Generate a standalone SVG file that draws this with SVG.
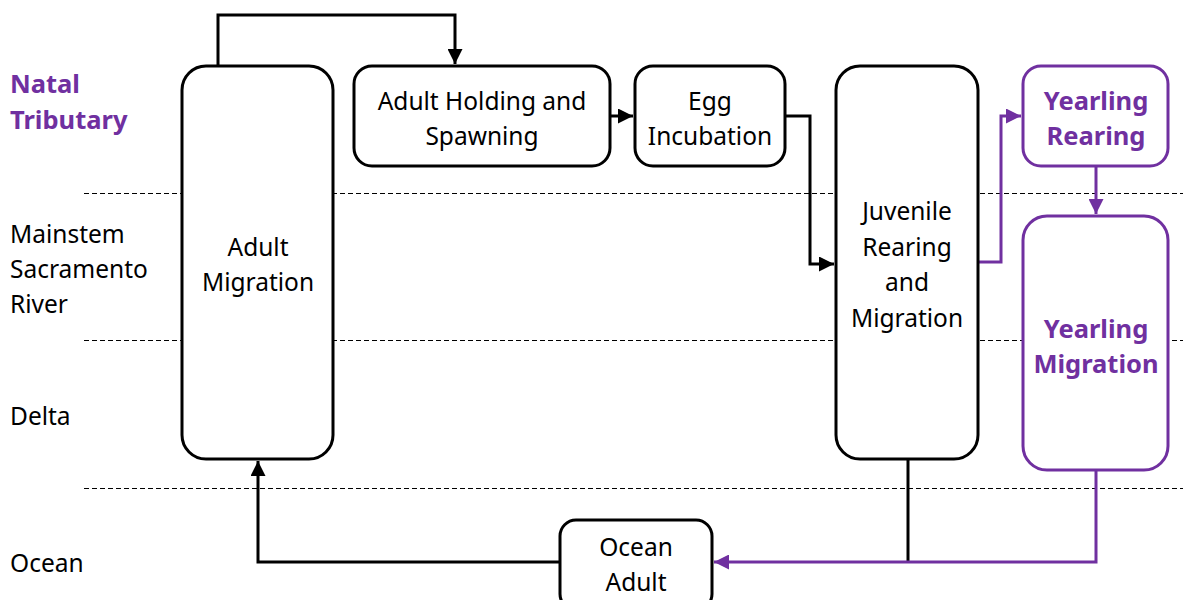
<svg xmlns="http://www.w3.org/2000/svg" width="1183" height="600" viewBox="0 0 1183 600">
  <style>
    .box { fill: #fff; stroke: #000; stroke-width: 3; }
    .pbox { fill: #fff; stroke: #7030A0; stroke-width: 3; }
    .lbl { font-family: "Noto Sans", "Open Sans", sans-serif; font-size: 24.5px; fill: #000; }
    .mid { text-anchor: middle; }
    .pl { font-family: "Noto Sans", "Open Sans", sans-serif; font-size: 25.5px; font-weight: bold; fill: #7030A0; }
    .zone { stroke: #000; stroke-width: 1; stroke-dasharray: 5 3; fill: none; }
    .wire { fill: none; stroke: #000; stroke-width: 3; }
    .pwire { fill: none; stroke: #7030A0; stroke-width: 3; }
  </style>
  <defs>
    <marker id="ah" viewBox="0 0 10 10" refX="10" refY="5" markerWidth="5" markerHeight="5" orient="auto" markerUnits="strokeWidth">
      <path d="M0,0 L10,5 L0,10 z" fill="#000"/>
    </marker>
    <marker id="ahp" viewBox="0 0 10 10" refX="10" refY="5" markerWidth="5" markerHeight="5" orient="auto" markerUnits="strokeWidth">
      <path d="M0,0 L10,5 L0,10 z" fill="#7030A0"/>
    </marker>
  </defs>
  <rect width="1183" height="600" fill="#fff"/>

  <!-- habitat zone dividers -->
  <g id="zones">
    <line class="zone" x1="84" y1="193.5" x2="1183" y2="193.5"/>
    <line class="zone" x1="84" y1="340.5" x2="1183" y2="340.5"/>
    <line class="zone" x1="84" y1="488.5" x2="1183" y2="488.5"/>
  </g>

  <!-- zone labels -->
  <g id="zone-labels">
    <text class="pl" x="10" y="93">Natal</text>
    <text class="pl" x="10" y="129">Tributary</text>
    <text class="lbl" x="10" y="243">Mainstem</text>
    <text class="lbl" x="10" y="278">Sacramento</text>
    <text class="lbl" x="10" y="313">River</text>
    <text class="lbl" x="10" y="425">Delta</text>
    <text class="lbl" x="10" y="572">Ocean</text>
  </g>

  <!-- connectors -->
  <g id="connectors">
    <path class="wire" d="M218,66 V15 H455 V64" marker-end="url(#ah)"/>
    <path class="wire" d="M610,116 H633" marker-end="url(#ah)"/>
    <path class="wire" d="M785,116 H810 V264 H834" marker-end="url(#ah)"/>
    <path class="pwire" d="M978,262 H1001 V116 H1021" marker-end="url(#ahp)"/>
    <path class="pwire" d="M1096,166 V214" marker-end="url(#ahp)"/>
    <path class="wire" d="M908,459 V562"/>
    <path class="pwire" d="M1096,470 V562 H714" marker-end="url(#ahp)"/>
    <path class="wire" d="M560,562 H258 V461" marker-end="url(#ah)"/>
  </g>

  <g id="adult-migration">
    <rect class="box" x="182" y="66" width="151" height="393" rx="24"/>
    <text class="lbl mid" x="258" y="256">Adult</text>
    <text class="lbl mid" x="258" y="291">Migration</text>
  </g>

  <g id="adult-holding">
    <rect class="box" x="354" y="66" width="256" height="100" rx="18"/>
    <text class="lbl mid" x="482" y="110">Adult Holding and</text>
    <text class="lbl mid" x="482" y="145">Spawning</text>
  </g>

  <g id="egg-incubation">
    <rect class="box" x="635" y="66" width="150" height="100" rx="18"/>
    <text class="lbl mid" x="710" y="110">Egg</text>
    <text class="lbl mid" x="710" y="145">Incubation</text>
  </g>

  <g id="juvenile">
    <rect class="box" x="836" y="66" width="142" height="393" rx="24"/>
    <text class="lbl mid" x="907" y="220">Juvenile</text>
    <text class="lbl mid" x="907" y="256">Rearing</text>
    <text class="lbl mid" x="907" y="291">and</text>
    <text class="lbl mid" x="907" y="327">Migration</text>
  </g>

  <g id="yearling-rearing">
    <rect class="pbox" x="1023" y="66" width="145" height="100" rx="18"/>
    <text class="pl mid" x="1096" y="110">Yearling</text>
    <text class="pl mid" x="1096" y="145">Rearing</text>
  </g>

  <g id="yearling-migration">
    <rect class="pbox" x="1023" y="216" width="145" height="254" rx="24"/>
    <text class="pl mid" x="1096" y="338">Yearling</text>
    <text class="pl mid" x="1096" y="373">Migration</text>
  </g>

  <g id="ocean-adult">
    <rect class="box" x="560" y="520" width="152" height="90" rx="16"/>
    <text class="lbl mid" x="636" y="556">Ocean</text>
    <text class="lbl mid" x="636" y="591">Adult</text>
  </g>
</svg>
